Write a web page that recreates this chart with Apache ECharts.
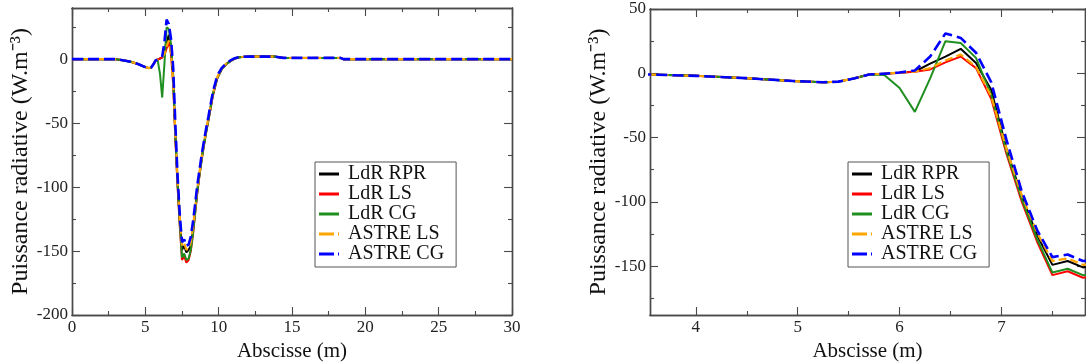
<!DOCTYPE html>
<html>
<head>
<meta charset="utf-8">
<script src="https://cdn.jsdelivr.net/npm/echarts@6/dist/echarts.min.js"></script>
<style>
html,body{margin:0;padding:0;background:#fff;}
#c{width:1086px;height:362px;}
</style>
</head>
<body>
<div id="c"></div>
<script>
// ---- data ----
const seriesNames = ['LdR RPR', 'LdR LS', 'LdR CG', 'ASTRE LS', 'ASTRE CG'];
const xs = [0, 2, 3, 3.55, 4.0, 4.5, 4.95, 5.25, 5.4, 5.55, 5.7, 5.85, 6.0, 6.15, 6.3, 6.45, 6.6, 6.75, 6.9, 7.05, 7.2, 7.35, 7.5, 7.65, 7.8, 7.95, 8.1, 8.25, 8.4, 8.55, 8.7, 8.85, 9.0, 9.15, 9.3, 9.6, 9.9, 10.2, 10.5, 10.8, 11.1, 11.4, 12, 13.8, 14.4, 18.3, 18.5, 30];
const ldrRPR = [0, 0, 0, -1, -2, -3.8, -6, -7, -6.5, -4, -1, -0.3, 0.5, 1.4, 7.5, 13, 19, 8, -13, -59, -96, -126, -149, -146, -151, -149, -146, -134, -118, -102, -89, -77, -66, -56, -47, -28, -15, -8, -4, -1.5, 0.5, 1.5, 2, 2, 1, 1, 0, 0];
const ldrLS  = [0, 0, 0, -1, -2, -3.8, -6, -7, -6.5, -4, -1, -0.3, 0.5, 1.2, 3, 8.5, 13, 4, -20, -63, -100, -131, -157, -154, -159, -157, -150, -137, -120, -104, -90, -78, -67, -57, -48, -29, -15, -8, -4, -1.5, 0.5, 1.5, 2, 2, 1, 1, 0, 0];
const ldrCG  = [0, 0, 0, -1, -2, -3.8, -6, -7, -6.5, -4, -1, -1.3, -11.5, -30, -4, 25, 23.5, 12, -17, -61, -98, -129, -155, -152, -157, -156, -149, -136, -120, -103, -90, -78, -67, -57, -48, -28, -15, -8, -4, -1.5, 0.5, 1.5, 2, 2, 1, 1, 0, 0];
const astreLS = [0, 0, 0, -1, -2, -3.8, -6, -7, -6.5, -4, -1, -0.3, 0.5, 1.3, 4, 10, 14.5, 5, -18, -59, -95, -124, -146, -144, -149, -148, -143, -131, -116, -101, -88, -76, -65, -55, -46, -27, -14, -7.5, -3.5, -1.2, 0.6, 1.6, 2, 2, 1, 1, 0, 0];
const astreCG = [0, 0, 0, -1, -2, -3.8, -6, -7, -6.5, -4, -1, -0.3, 0.6, 2.2, 13, 31, 27.5, 16, -7, -52, -92, -122, -143, -141, -146, -145, -139, -127, -113, -98, -86, -74, -64, -54, -45, -26, -13, -7, -3.5, -1, 0.7, 1.7, 2, 2, 1, 1, 0, 0];
const allValues = [ldrRPR, ldrLS, ldrCG, astreLS, astreCG];

// tick positions
const leftXMajor = [0, 5, 10, 15, 20, 25, 30];
const leftXMinor = [2.5, 7.5, 12.5, 17.5, 22.5, 27.5];
const leftYMajor = [-200, -150, -100, -50, 0];
const leftYMinor = [-175, -125, -75, -25, 25];
const rightXMajor = [4, 5, 6, 7];
const rightXMinor = [4.5, 5.5, 6.5, 7.5];
const rightYMajor = [-150, -100, -50, 0, 50];
const rightYMinor = [-175, -125, -75, -25, 25];

// ---- styling ----
const FONT = 'Liberation Serif';
const AX = '#4a4a4a';
const colors = ['#000000', '#ff0000', '#1f8f1f', '#ffa500', '#0000ff'];
const dashes = ['solid', 'solid', 'solid', [8, 4], [11, 5]];
const widths = [2, 2, 2, 2.2, 2.6];
const SOLID_ICON = 'path://M0,0h20v3h-20z';
const DASH_ICON = 'path://M0,0h15v3h-15z M19,0h1v3h-1z';
const legendIcons = [SOLID_ICON, SOLID_ICON, SOLID_ICON, DASH_ICON, DASH_ICON];

function axis(gridIndex, min, max, position, ticks, len, labels, extra) {
  const a = {
    type: 'value', gridIndex, min, max, position,
    axisLine: { show: true, onZero: false, lineStyle: { color: AX, width: 1.4 } },
    axisTick: { show: true, inside: true, length: len, customValues: ticks, lineStyle: { color: AX, width: 1.1 } },
    axisLabel: labels ? { show: true, customValues: labels, margin: 4, fontFamily: FONT, fontSize: 17, color: '#222' } : { show: false },
    splitLine: { show: false },
    z: 1
  };
  return Object.assign(a, extra || {});
}

const yName = 'Puissance radiative (W.m\u207B\u00B3)';

function panelAxes(g, xmin, xmax, ymin, ymax, xMaj, xMin, yMaj, yMin) {
  const xa = [
    axis(g, xmin, xmax, 'bottom', xMaj, 8, xMaj, { name: 'Abscisse (m)', nameLocation: 'middle', nameGap: 14, nameTextStyle: { fontFamily: FONT, fontSize: 21, color: '#111' } }),
    axis(g, xmin, xmax, 'bottom', xMin, 4, null),
    axis(g, xmin, xmax, 'top', xMaj, 8, null),
    axis(g, xmin, xmax, 'top', xMin, 4, null)
  ];
  const ya = [
    axis(g, ymin, ymax, 'left', yMaj, 8, yMaj, { name: yName, nameLocation: 'middle', nameRotate: 90, nameGap: 24, nameTextStyle: { fontFamily: FONT, fontSize: 24, color: '#111' } }),
    axis(g, ymin, ymax, 'left', yMin, 4, null),
    axis(g, ymin, ymax, 'right', yMaj, 8, null),
    axis(g, ymin, ymax, 'right', yMin, 4, null)
  ];
  return { xa, ya };
}

const p0 = panelAxes(0, 0, 30, -200, 40, leftXMajor, leftXMinor, leftYMajor, leftYMinor);
const p1 = panelAxes(1, 3.55, 7.82, -188, 50, rightXMajor, rightXMinor, rightYMajor, rightYMinor);

const series = [];
[0, 1].forEach(g => {
  seriesNames.forEach((name, i) => {
    series.push({
      name, type: 'line',
      xAxisIndex: g * 4, yAxisIndex: g * 4,
      data: xs.map((x, k) => [x, allValues[i][k]]),
      symbol: 'none', clip: true, animation: false,
      lineStyle: { color: colors[i], width: widths[i], type: dashes[i] },
      itemStyle: { color: colors[i] },
      z: 2 + i
    });
  });
});

function legend(left) {
  return {
    data: seriesNames.map((n, i) => ({ name: n, icon: legendIcons[i], itemStyle: { color: colors[i] } })),
    orient: 'vertical', left, top: 162,
    padding: [2, 12, 3, 4], itemGap: 0, itemWidth: 20, itemHeight: 3,
    borderColor: '#555', borderWidth: 1, backgroundColor: '#fff',
    selectedMode: false,
    textStyle: { fontFamily: FONT, fontSize: 20, color: '#111', lineHeight: 20, padding: [0, 0, 0, 4] }
  };
}

const option = {
  animation: false,
  backgroundColor: '#fff',
  grid: [
    { left: 72, top: 8, width: 440, height: 307, containLabel: false, outerBoundsMode: 'none' },
    { left: 650, top: 9, width: 435, height: 306, containLabel: false, outerBoundsMode: 'none' }
  ],
  xAxis: p0.xa.concat(p1.xa),
  yAxis: p0.ya.concat(p1.ya),
  legend: [legend(315), legend(848)],
  series
};

const chart = echarts.init(document.getElementById('c'), null, { renderer: 'canvas' });
chart.setOption(option);
</script>
</body>
</html>
